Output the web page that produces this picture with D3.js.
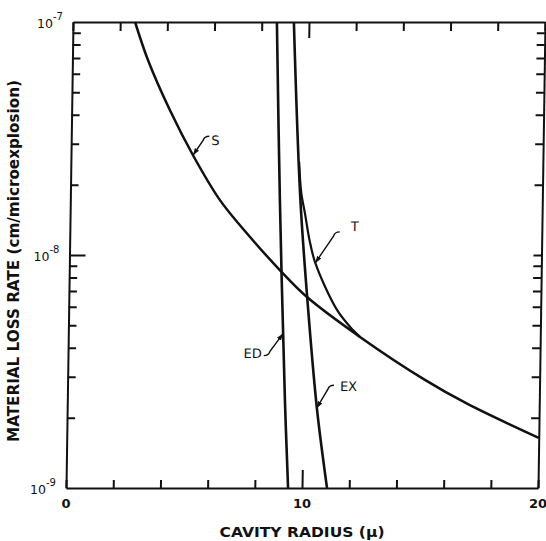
<!DOCTYPE html>
<html>
<head>
<meta charset="utf-8">
<script src="https://cdn.jsdelivr.net/npm/d3@7"></script>
<style>
  html, body { margin: 0; padding: 0; background: #fff; }
  svg { display: block; }
  text { font-family: "DejaVu Sans", sans-serif; fill: #111; }
</style>
</head>
<body>
<div id="chart"></div>
<script>
// curve S
const sRadius = [2.63, 3.2, 4.16, 5.17, 6.34, 7.5, 8.93, 10.09, 12.36, 15.14, 16.94, 20];
const sRate = [1e-7, 6.87e-8, 4.19e-8, 2.68e-8, 1.72e-8, 1.24e-8, 8.6e-9, 6.6e-9, 4.45e-9, 2.91e-9, 2.3e-9, 1.64e-9];
// curve ED
const edRadius = [8.64, 8.88, 9.22, 9.41];
const edRate = [1e-7, 1.72e-8, 2.39e-9, 1e-9];
// curve EX
const exRadius = [9.36, 9.75, 10.19, 10.59, 11.06];
const exRate = [1e-7, 1.72e-8, 5.26e-9, 2.16e-9, 1e-9];
// curve T
const tRadius = [9.67, 9.78, 9.95, 10.16, 10.42, 11.37, 12.06, 12.36];
const tRate = [2.51e-8, 1.85e-8, 1.51e-8, 1.16e-8, 9.25e-9, 5.81e-9, 4.76e-9, 4.45e-9];

const xTicks = [0, 2, 4, 6, 8, 10, 12, 14, 16, 18, 20];
const xTickLabels = [0, 10, 20];
const yTicks = [2e-9, 3e-9, 4e-9, 5e-9, 6e-9, 7e-9, 8e-9, 9e-9, 1e-8,
                2e-8, 3e-8, 4e-8, 5e-8, 6e-8, 7e-8, 8e-8, 9e-8];
const yTickLabels = [1e-7, 1e-8, 1e-9];
const yExponents = ["-7", "-8", "-9"];

const W = 546, H = 541;
const mLeft = 66, mRight = 538, mTop = 22, mBottom = 488;
const skewDeg = -0.86;
const skewShift = yy => (mBottom - yy) * Math.tan(-skewDeg * Math.PI / 180);

const x = d3.scaleLinear().domain([0, 20]).range([mLeft, mRight]);
const y = d3.scaleLog().domain([1e-9, 1e-7]).range([mBottom, mTop]);

const svg = d3.select("#chart").append("svg")
    .attr("width", W).attr("height", H);

svg.append("defs").append("marker")
    .attr("id", "arrow")
    .attr("markerUnits", "userSpaceOnUse")
    .attr("markerWidth", 8).attr("markerHeight", 6)
    .attr("refX", 7).attr("refY", 2.5)
    .attr("orient", "auto-start-reverse")
    .append("path").attr("d", "M0,0 L7,2.5 L0,5 Z").attr("fill", "#111");

// the scanned frame is slightly slanted
const plot = svg.append("g")
    .attr("transform", `translate(0,${mBottom}) skewX(${skewDeg}) translate(0,${-mBottom})`);

const isDecade = d => Math.abs(Math.log10(d) - Math.round(Math.log10(d))) < 1e-6;

const gBottom = plot.append("g").attr("transform", `translate(0,${mBottom})`)
    .call(d3.axisBottom(x).tickValues(xTicks).tickSize(-8).tickSizeOuter(0).tickFormat(""));
gBottom.selectAll(".tick line").attr("y2", d => d === 10 ? -18 : -8);

const gTop = plot.append("g").attr("transform", `translate(0,${mTop})`)
    .call(d3.axisTop(x).tickValues(xTicks).tickSize(-9).tickSizeOuter(0).tickFormat(""));
gTop.selectAll(".tick line").attr("y2", d => d === 10 ? 16 : 9);

const gLeft = plot.append("g").attr("transform", `translate(${mLeft},0)`)
    .call(d3.axisLeft(y).tickValues(yTicks).tickSize(-8).tickSizeOuter(0).tickFormat(""));
gLeft.selectAll(".tick line").attr("x2", d => isDecade(d) ? 16 : 8);

const gRight = plot.append("g").attr("transform", `translate(${mRight},0)`)
    .call(d3.axisRight(y).tickValues(yTicks).tickSize(-8).tickSizeOuter(0).tickFormat(""));

plot.selectAll(".domain").attr("stroke", "#111").attr("stroke-width", 2);
plot.selectAll(".tick line").attr("stroke", "#111").attr("stroke-width", 2);

const line = d3.line()
    .x(d => x(d[0]))
    .y(d => y(d[1]))
    .curve(d3.curveCatmullRom.alpha(0.5));

const series = [
  [tRadius, tRate, 2.2],
  [sRadius, sRate, 2.5],
  [edRadius, edRate, 2.6],
  [exRadius, exRate, 2.6]
];
series.forEach(([rs, vs, w]) => {
  plot.append("path")
      .datum(rs.map((r, i) => [r, vs[i]]))
      .attr("d", line)
      .attr("fill", "none")
      .attr("stroke", "#111")
      .attr("stroke-width", w)
      .attr("stroke-linejoin", "round");
});

// curve labels with leader arrows (tip on the curve, offsets in px)
const notes = [
  { text: "S",  r: 5.17,  v: 2.68e-8, knee: [10, -15], hook: 1,  label: [18, -10], anchor: "start" },
  { text: "T",  r: 10.42, v: 9.25e-9, knee: [18, -27], hook: 1,  label: [35, -32], anchor: "start" },
  { text: "ED", r: 9.1,   v: 4.6e-9,  knee: [-13, 18], hook: -1, label: [-21, 24], anchor: "end" },
  { text: "EX", r: 10.57, v: 2.2e-9,  knee: [11, -19], hook: 1,  label: [23, -17], anchor: "start" }
];
notes.forEach(n => {
  const tx = x(n.r), ty = y(n.v);
  const kx = tx + n.knee[0], ky = ty + n.knee[1];
  const dy = n.hook > 0 ? -4 : 4;
  plot.append("path")
      .attr("d", `M${tx},${ty} L${kx},${ky} Q${kx + n.hook},${ky + dy} ${kx + 6 * n.hook},${ky + dy}`)
      .attr("fill", "none")
      .attr("stroke", "#111")
      .attr("stroke-width", 1.4)
      .attr("marker-start", "url(#arrow)");
  plot.append("text")
      .attr("x", tx + n.label[0])
      .attr("y", ty + n.label[1])
      .attr("text-anchor", n.anchor)
      .attr("font-size", 13)
      .text(n.text);
});

// y tick labels
yTickLabels.forEach((v, i) => {
  const yy = y(v);
  const t = svg.append("text")
      .attr("x", mLeft + skewShift(yy) - 10)
      .attr("y", yy + 6)
      .attr("text-anchor", "end")
      .attr("font-size", 12.5);
  t.append("tspan").text("10");
  t.append("tspan").attr("dy", -8).attr("font-size", 10).text(yExponents[i]);
});

// x tick labels
svg.selectAll(".xlab").data(xTickLabels).enter().append("text")
    .attr("class", "xlab")
    .attr("x", d => x(d))
    .attr("y", 508)
    .attr("text-anchor", "middle")
    .attr("font-size", 13)
    .attr("font-weight", "bold")
    .text(d => d);

svg.append("text")
    .attr("x", 302).attr("y", 537)
    .attr("text-anchor", "middle")
    .attr("font-size", 14)
    .attr("font-weight", "bold")
    .attr("textLength", 165)
    .attr("lengthAdjust", "spacingAndGlyphs")
    .text("CAVITY RADIUS (μ)");

svg.append("text")
    .attr("transform", "translate(19,261) rotate(-90)")
    .attr("text-anchor", "middle")
    .attr("font-size", 15)
    .attr("font-weight", "bold")
    .attr("textLength", 362)
    .attr("lengthAdjust", "spacingAndGlyphs")
    .text("MATERIAL LOSS RATE (cm/microexplosion)");
</script>
</body>
</html>
